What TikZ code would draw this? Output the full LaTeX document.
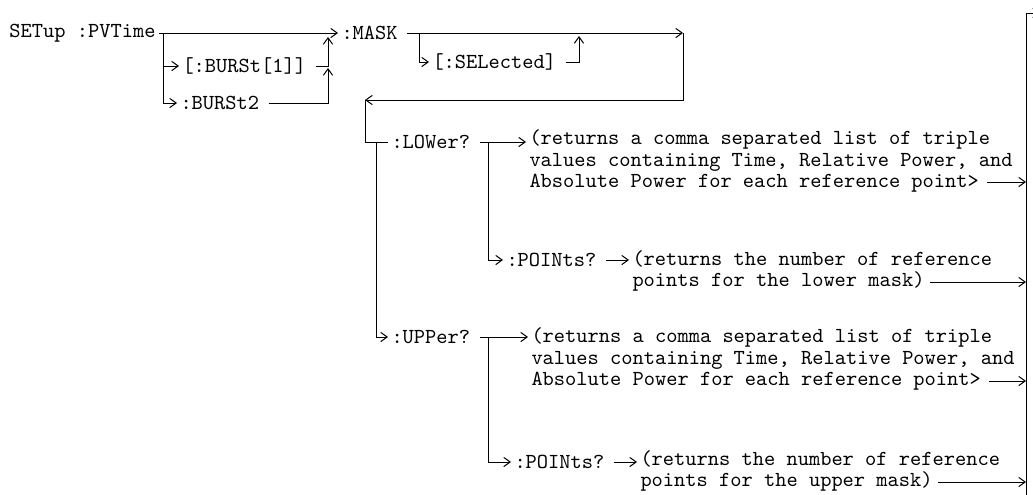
\documentclass[tikz,border=0pt]{standalone}
\usetikzlibrary{arrows.meta}
\tikzstyle{cmd}   = [inner xsep=1.5pt, inner ysep=1pt, anchor=west,
                     font=\ttfamily\fontsize{10.7}{10.75}\selectfont]
\tikzstyle{desc}  = [cmd, align=left]
\tikzstyle{arrow} = [-{Straight Barb[length=3.2pt,width=4.6pt]}]
\tikzstyle{leave} = [shorten <=3pt]
\begin{document}
\frenchspacing
\begin{tikzpicture}[x=0.5pt, y=-0.5pt, line width=0.5pt]

  \useasboundingbox (0,0) rectangle (1033,494);
  \clip (0,0) rectangle (1033,494);

  %% Commands
  \node[cmd] (setup)  at (6,33)   {SETup :PVTime};
  \node[cmd] (burst1) at (179,66) {[:BURSt[1]]};
  \node[cmd] (burst2) at (177,103) {:BURSt2};
  \node[cmd] (mask)   at (338,33) {:MASK};
  \node[cmd] (sel)    at (429,62) {[:SELected]};
  \node[cmd] (lower)  at (388,142) {:LOWer?};
  \node[cmd] (lowpts) at (503,260) {:POINts?};
  \node[cmd] (upper)  at (388,337) {:UPPer?};
  \node[cmd] (uppts)  at (511,462) {:POINts?};

  %% Descriptions
  \node[desc] (lowdesc) at (526,161)
        {(returns a comma separated list of triple\\
         values containing Time, Relative Power, and\\
         Absolute Power for each reference point>};
  \node[desc] (lowptsdesc) at (629,271)
        {(returns the number of reference\\
         points for the lower mask)};
  \node[desc] (updesc) at (528,359)
        {(returns a comma separated list of triple\\
         values containing Time, Relative Power, and\\
         Absolute Power for each reference point>};
  \node[desc] (upptsdesc) at (637,471)
        {(returns the number of reference\\
         points for the upper mask)};

  %% Junctions
  \coordinate (j0) at (163,33);
  \coordinate (m0) at (328,37);
  \coordinate (b1) at (328,68);
  \coordinate (m1) at (683,33);
  \coordinate (s0) at (419,33);
  \coordinate (s1) at (579,36);
  \coordinate (ret) at (365,100);
  \coordinate (l0) at (376,142);
  \coordinate (lb) at (488,142);
  \coordinate (ub) at (488,337);
  \coordinate (lowout) at (987,182);
  \coordinate (lowptsout) at (930,282);
  \coordinate (upout) at (989,381);
  \coordinate (upptsout) at (938,482);
  \coordinate (bustop) at (1026,13);
  \coordinate (busbot) at (1026,520);
  \coordinate (busend) at (1040,13);

  %% Connectors
  \draw[arrow] (j0 -| setup.east) -- (mask.west);
  \draw[arrow] (j0) |- (burst1.west);
  \draw[arrow] (j0) |- (burst2.west);
  \draw[arrow, leave] (burst2.east) -| (b1);
  \draw[arrow, leave] (burst1.east) -| (m0);
  \draw[arrow, leave] (mask.east) -- (m1);
  \draw[arrow] (m1) |- (ret);
  \draw[arrow] (s0) |- (sel.west);
  \draw[arrow, leave] (sel.east) -| (s1);
  \draw (ret) |- (lower.west);
  \draw[arrow] (l0) |- (upper.west);
  \draw[arrow, leave] (lower.east) -- (lowdesc.west |- lower.east);
  \draw[arrow] (lb) |- (lowpts.west);
  \draw[arrow, leave] (lowpts.east) -- (lowptsdesc.west |- lowpts.east);
  \draw[arrow, leave] (upper.east) -- (updesc.west |- upper.east);
  \draw[arrow] (ub) |- (uppts.west);
  \draw[arrow, leave] (uppts.east) -- (upptsdesc.west |- uppts.east);

  %% Right bus
  \draw[arrow] (lowout) -- (lowout -| bustop);
  \draw[arrow] (lowptsout) -- (lowptsout -| bustop);
  \draw[arrow] (upout) -- (upout -| bustop);
  \draw[arrow] (upptsout) -- (upptsout -| bustop);
  \draw[arrow] (busbot) -- (bustop) -- (busend);

\end{tikzpicture}
\end{document}
